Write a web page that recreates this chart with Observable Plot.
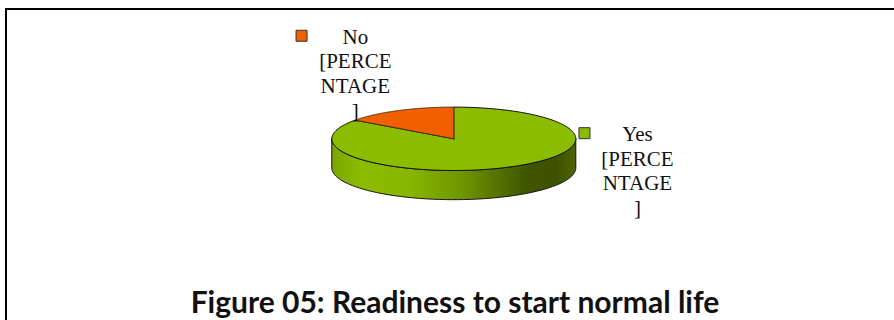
<!DOCTYPE html>
<html>
<head>
<meta charset="utf-8">
<script src="https://cdn.jsdelivr.net/npm/d3@7"></script>
<script src="https://cdn.jsdelivr.net/npm/@observablehq/plot@0.6"></script>
<style>
html,body{margin:0;padding:0;background:#fff;width:894px;height:320px;overflow:hidden}
</style>
</head>
<body>
<div id="chart"></div>
<script>
const categories = ["No", "Yes"];
const shares = [15, 85];
const colors = ["#f06000", "#8cbc00"];
const titleText = "Figure 05: Readiness to start normal life";
const placeholder = ["[PERCE", "NTAGE", "]"];

// pie in unit coordinates: x right, y up; depth in unit-y
const depth = 0.92;
const pie = d3.pie().sort(null).value((d, i) => shares[i]).startAngle(-2 * Math.PI * shares[0] / 100).endAngle(2 * Math.PI - 2 * Math.PI * shares[0] / 100)(shares);
function arcPoints(a0, a1) {
  const pts = [];
  const n = 160;
  for (let i = 0; i <= n; i++) {
    const a = a0 + (a1 - a0) * i / n;
    pts.push([Math.sin(a), Math.cos(a)]);
  }
  return pts;
}
const slices = pie.map((p, i) => [[0, 0], ...arcPoints(p.startAngle, p.endAngle), [0, 0]].map(([x, y]) => ({x, y, key: categories[i]})));
const front = arcPoints(Math.PI / 2, 3 * Math.PI / 2);
const wall = [...front.map(([x, y]) => ({x, y})), ...front.slice().reverse().map(([x, y]) => ({x, y: y - depth}))];
wall.push(wall[0]);

const legend = [
  {x: -1.248, y: 3.25, k: 0},
  {x: 1.071, y: 0.177, k: 1}
];
const labels = [
  {x: -0.807, y: 3.21, t: categories[0]}, {x: -0.807, y: 2.44, t: placeholder[0]}, {x: -0.807, y: 1.65, t: placeholder[1]}, {x: -0.807, y: 0.86, t: placeholder[2]},
  {x: 1.505, y: 0.13, t: categories[1]}, {x: 1.505, y: -0.66, t: placeholder[0]}, {x: 1.505, y: -1.41, t: placeholder[1]}, {x: 1.505, y: -2.20, t: placeholder[2]}
];

const defsMark = () => {
  const s = d3.create("svg:defs");
  const g = s.append("linearGradient").attr("id", "wallGrad").attr("x1", "0").attr("x2", "1").attr("y1", "0").attr("y2", "0");
  [[0, "#7ba500"], [0.12, "#8cbc00"], [0.32, "#88b600"], [0.55, "#6d9200"], [0.8, "#3f5500"], [0.92, "#3d5200"], [1, "#4c6600"]]
    .forEach(([o, c]) => g.append("stop").attr("offset", o).attr("stop-color", c));
  return s.node();
};

const rx = 122, ry = 31.7, cx = 453.3, cy = 138.3;
const chart = Plot.plot({
  width: 894,
  height: 320,
  margin: 0,
  style: {background: "#fff", overflow: "visible"},
  x: {domain: [-cx / rx, (894 - cx) / rx], range: [0, 894], axis: null},
  y: {domain: [(cy - 320) / ry, cy / ry], range: [320, 0], axis: null},
  marks: [
    defsMark,
    Plot.line(wall, {x: "x", y: "y", fill: "url(#wallGrad)", stroke: "#111", strokeWidth: 1, curve: "linear"}),
    Plot.line(slices[1], {x: "x", y: "y", fill: colors[1], stroke: "#111", strokeWidth: 1, curve: "linear"}),
    Plot.line(slices[0], {x: "x", y: "y", fill: colors[0], stroke: "#4a3010", strokeWidth: 1, curve: "linear"}),
    Plot.dot(legend, {x: "x", y: "y", symbol: "square", r: 6.2, fill: d => colors[d.k], stroke: "#333", strokeWidth: 1}),
    Plot.text(labels, {x: "x", y: "y", text: "t", fontFamily: "Liberation Serif", fontSize: 21, fill: "#111", textAnchor: "middle"}),
    () => {
      const g = d3.create("svg:g");
      g.append("path").attr("d", "M6 320V9H894").attr("fill", "none").attr("stroke", "#000").attr("stroke-width", 2);
      g.append("text").attr("x", 455).attr("y", 313).attr("text-anchor", "middle")
        .attr("font-family", "Lato").attr("font-weight", 700).attr("font-size", 30).attr("fill", "#111").text(titleText);
      return g.node();
    }
  ]
});
document.getElementById("chart").append(chart);
</script>
</body>
</html>
